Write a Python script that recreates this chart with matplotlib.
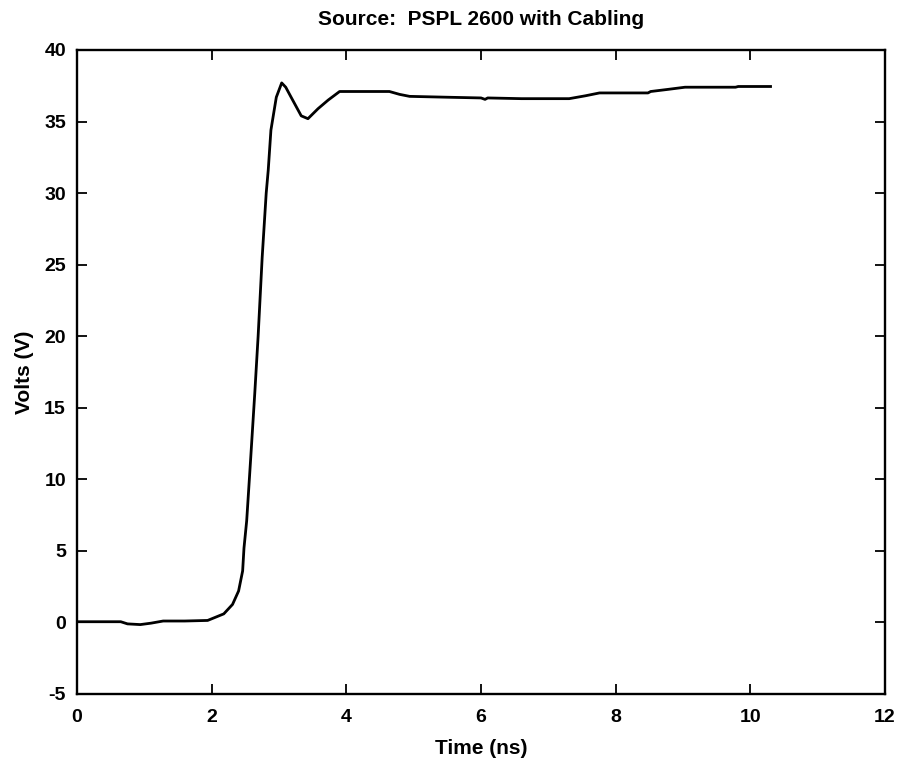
import matplotlib
matplotlib.use("Agg")
import matplotlib.pyplot as plt

time_ns = [0.0, 0.65, 0.75, 0.94, 1.1, 1.28, 1.6, 1.94, 2.05, 2.18, 2.31, 2.40, 2.46, 2.48,
           2.52, 2.58, 2.64, 2.69, 2.75, 2.81, 2.84, 2.88, 2.96, 3.04, 3.10, 3.18, 3.33,
           3.43, 3.58, 3.73, 3.90, 4.2, 4.64, 4.79, 4.94, 5.5, 6.0, 6.06, 6.1, 6.6, 7.31,
           7.55, 7.76, 8.1, 8.48, 8.52, 8.78, 9.03, 9.4, 9.78, 9.82, 10.30]
volts = [0.05, 0.05, -0.1, -0.15, -0.05, 0.1, 0.1, 0.14, 0.35, 0.6, 1.26, 2.2, 3.6, 5.2,
         7.1, 11.5, 16.0, 20.0, 25.5, 30.0, 31.6, 34.4, 36.7, 37.7, 37.4, 36.7, 35.4,
         35.2, 35.9, 36.5, 37.1, 37.1, 37.1, 36.9, 36.76, 36.7, 36.65, 36.55, 36.65, 36.6, 36.6,
         36.8, 37.0, 37.0, 37.0, 37.1, 37.25, 37.4, 37.4, 37.4, 37.45, 37.45]

x_ticks = [0, 2, 4, 6, 8, 10, 12]
y_ticks = [-5, 0, 5, 10, 15, 20, 25, 30, 35, 40]
y_tick_labels = ['-5', '0', '5', '10', '15', '20', '25', '30', '35', '40']

plt.rcParams['font.family'] = ['Liberation Sans', 'DejaVu Sans']
fig = plt.figure(figsize=(9.02, 7.61), dpi=100)
ax = fig.add_axes([77 / 902, 1 - 694 / 761, 808 / 902, 644 / 761])
ax.plot(time_ns, volts, color='black', linewidth=2.0)
ax.set_xlim(0, 12)
ax.set_ylim(-5, 40)
ax.set_xticks(x_ticks)
ax.set_yticks(y_ticks)
ax.set_yticklabels(y_tick_labels)
ax.tick_params(direction='in', length=7, width=1.3, labelsize=14, top=True, right=True, pad=8)
ax.tick_params(axis='x', pad=11)
for lab in ax.get_xticklabels() + ax.get_yticklabels():
    lab.set_fontweight('bold')
for s in ax.spines.values():
    s.set_linewidth(1.7)
ax.set_xlabel('Time (ns)', fontsize=15, fontweight='bold', labelpad=9)
ax.set_ylabel('Volts (V)', fontsize=15, fontweight='bold', labelpad=7)
ax.set_title('Source:  PSPL 2600 with Cabling', fontsize=15, fontweight='bold', pad=18)
fig.savefig('out.png', dpi=100)
